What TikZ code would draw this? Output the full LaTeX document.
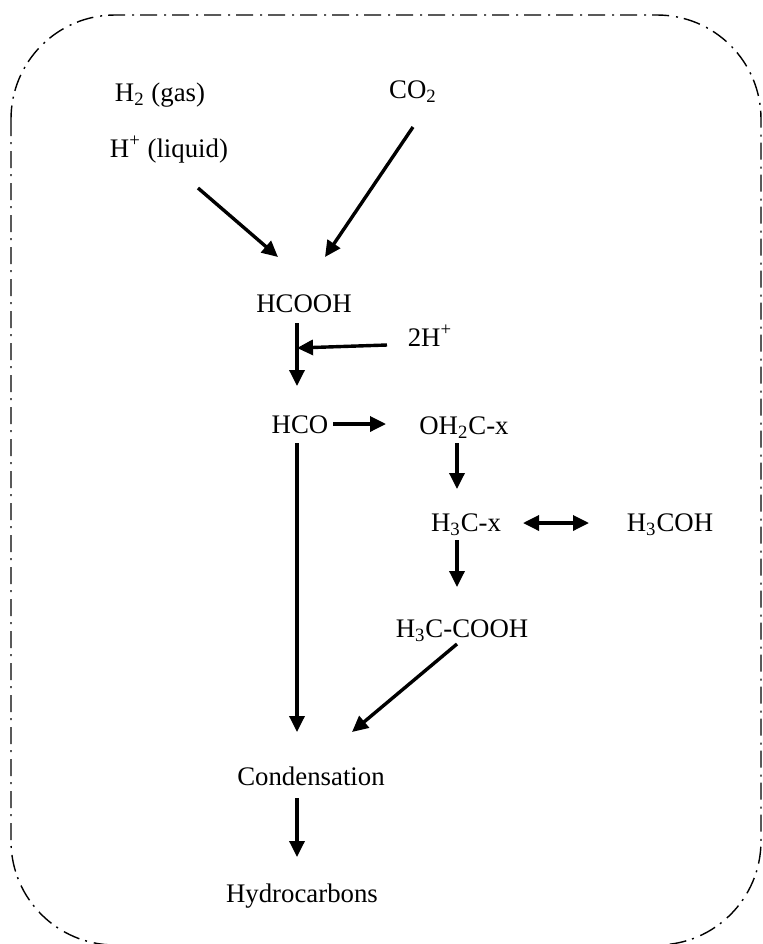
\documentclass[tikz,border=0pt]{standalone}
\usepackage{fontspec}
\setmainfont{Liberation Serif}
\usetikzlibrary{arrows.meta}

\begin{document}
\begin{tikzpicture}[x=0.5pt,y=-0.5pt,
  chem/.style={anchor=base,inner sep=0pt,font=\fontsize{13.4}{16}\selectfont},
  flow/.style={-{Triangle[length=8pt,width=7.5pt]},line width=1.7pt},
  both/.style={{Triangle[length=8pt,width=7.5pt]}-{Triangle[length=8pt,width=7.5pt]},line width=1.7pt}]
\useasboundingbox (0,0) rectangle (762,944);
\draw[line width=0.7pt,rounded corners=52pt,dash pattern=on 8.5pt off 3pt on 1pt off 3.5pt] (11,15) rectangle (761,945);

\node[chem] (h2) at (160,101) {H\textsubscript{2} (gas)};
\node[chem] (hplus) at (169,157) {H\textsuperscript{+} (liquid)};
\node[chem] (co2) at (413,98) {CO\textsubscript{2}};

\node[chem] (hcooh) at (304,312) {HCOOH};
\node[chem] (twoh) at (430,346) {2H\textsuperscript{+}};
\node[chem] (hco) at (300,433) {HCO};
\node[chem] (oh2c) at (464,434) {OH\textsubscript{2}C-x};
\node[chem] (h3cx) at (466,531) {H\textsubscript{3}C-x};
\node[chem] (h3coh) at (670,531) {H\textsubscript{3}COH};
\node[chem] (h3ccooh) at (462,637) {H\textsubscript{3}C-COOH};

\node[chem] (cond) at (311,785) {Condensation};
\node[chem] (hydro) at (302,902) {Hydrocarbons};

\draw[flow] ([shift={(29,31)}]hplus.base) -- ([shift={(-26,-55)}]hcooh.base);
\draw[flow] ([shift={(0,29)}]co2.base) -- ([shift={(21,-55)}]hcooh.base);

\draw[flow] ([shift={(-7,11)}]hcooh.base) -- ([shift={(-3,-47)}]hco.base);
\coordinate (join) at ([shift={(-7,36)}]hcooh.base);
\draw[flow] ([shift={(-43,-1)}]twoh.base) -- (join);

\draw[flow] ([shift={(33,-9)}]hco.base) -- ([shift={(-78,-10)}]oh2c.base);
\draw[flow] ([shift={(-7,9)}]oh2c.base) -- ([shift={(-9,-42)}]h3cx.base);
\draw[both] ([shift={(57,-8)}]h3cx.base) -- ([shift={(-81,-8)}]h3coh.base);
\draw[flow] ([shift={(-9,9)}]h3cx.base) -- ([shift={(-5,-50)}]h3ccooh.base);

\draw[flow] ([shift={(-5,7)}]h3ccooh.base) -- ([shift={(41,-53)}]cond.base);
\draw[flow] ([shift={(-3,10)}]hco.base) -- ([shift={(-14,-53)}]cond.base);
\draw[flow] ([shift={(-14,13)}]cond.base) -- ([shift={(-5,-45)}]hydro.base);
\end{tikzpicture}
\end{document}
